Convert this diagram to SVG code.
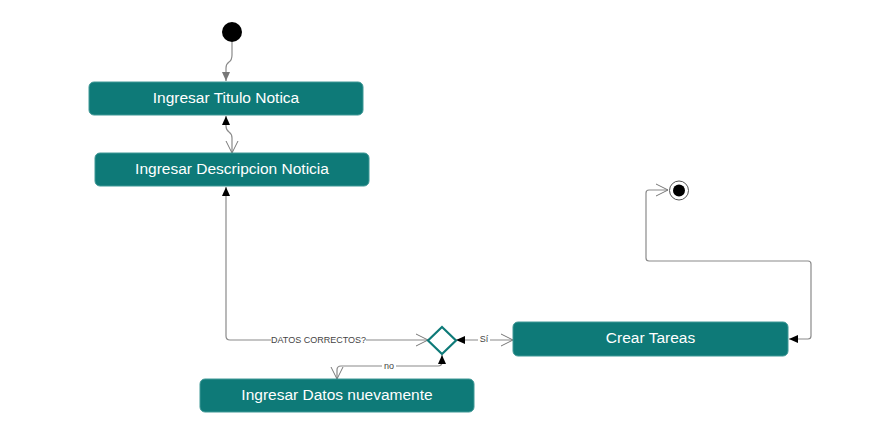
<svg xmlns="http://www.w3.org/2000/svg" width="871" height="421" viewBox="0 0 871 421">
<style>
.node rect{fill:#0e7a78;stroke:#3f9896;stroke-width:1}
.node text{fill:#fff;font-family:"Liberation Sans",Arial,sans-serif;font-size:15.5px;text-anchor:middle}
.c{fill:none;stroke:#8a8a8a;stroke-width:1.2}
.lbl{font-family:"Liberation Sans",Arial,sans-serif;font-size:9px;fill:#444;text-anchor:middle}
.lblbg{fill:#fff}
</style>
<defs>
<marker id="filled" markerWidth="10" markerHeight="10" refX="9" refY="5" orient="auto" markerUnits="userSpaceOnUse"><path d="M0,1 L9,5 L0,9 Z" fill="#000"/></marker>
<marker id="gray" markerWidth="10" markerHeight="10" refX="9" refY="5" orient="auto" markerUnits="userSpaceOnUse"><path d="M0,1 L9,5 L0,9 Z" fill="#777"/></marker>
<marker id="open" markerWidth="14" markerHeight="14" refX="12" refY="7" orient="auto-start-reverse" markerUnits="userSpaceOnUse"><path d="M0,1 L12,7 L0,13" fill="none" stroke="#777" stroke-width="1"/></marker>
</defs>
<rect width="871" height="421" fill="#fff"/>
<g id="connectors">
<path class="c" d="M232,42 L232,55 Q232,60 229,62 Q226,64 226,68 L226,81" marker-end="url(#gray)"/>
<path class="c" d="M232,153 L232,138 Q232,134 229,132 Q226,130 226,126 L226,116" marker-start="url(#open)" marker-end="url(#filled)"/>
<path class="c" d="M428,340 L230,340 Q226,340 226,336 L226,187" marker-start="url(#open)" marker-end="url(#filled)"/>
<path class="c" d="M513,340 L456,340" marker-start="url(#open)" marker-end="url(#filled)"/>
<path class="c" d="M337,379 L337,370 Q337,366 341,366 L438,366 Q442,366 442,362 L442,355" marker-start="url(#open)" marker-end="url(#filled)"/>
<path class="c" d="M668,190 L649,190 Q646,190 646,193 L646,258 Q646,261 649,261 L808,261 Q811,261 811,264 L811,336 Q811,339 808,339 L789,339" marker-start="url(#open)" marker-end="url(#filled)"/>
<rect class="lblbg" x="271" y="335" width="95" height="10"/>
<text class="lbl" x="318.5" y="343">DATOS CORRECTOS?</text>
<rect class="lblbg" x="478" y="334" width="12" height="10"/>
<text class="lbl" x="484" y="342">Sí</text>
<rect class="lblbg" x="382" y="361" width="14" height="10"/>
<text class="lbl" x="389" y="369">no</text>
</g>
<g id="start"><circle cx="232" cy="32" r="10" fill="#000"/></g>
<g id="end"><circle cx="679" cy="190.5" r="9.5" fill="#fff" stroke="#555" stroke-width="1"/><circle cx="679" cy="190.5" r="6" fill="#000"/></g>
<g id="n1" class="node"><rect x="89" y="82" width="274" height="33" rx="5"/><text x="226" y="103">Ingresar Titulo Notica</text></g>
<g id="n2" class="node"><rect x="95" y="153" width="274" height="33" rx="5"/><text x="232" y="174">Ingresar Descripcion Noticia</text></g>
<g id="n3" class="node"><rect x="200" y="379" width="274" height="33" rx="5"/><text x="337" y="400">Ingresar Datos nuevamente</text></g>
<g id="n4" class="node"><rect x="513" y="322" width="275" height="34" rx="5"/><text x="650.5" y="343">Crear Tareas</text></g>
<g id="decision"><path d="M442,327 L456,340.5 L442,354 L428,340.5 Z" fill="#fff" stroke="#0e7a78" stroke-width="2.2"/></g>
</svg>
